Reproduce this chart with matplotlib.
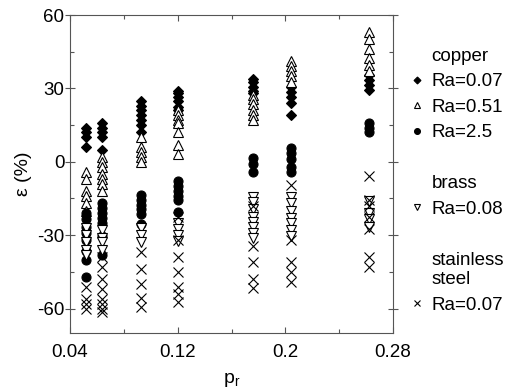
import matplotlib

matplotlib.use("Agg")
import matplotlib.pyplot as plt
import numpy as np
from matplotlib.lines import Line2D

plt.rcParams["font.family"] = ["Liberation Sans", "DejaVu Sans"]
plt.rcParams["mathtext.default"] = "regular"
plt.rcParams["axes.unicode_minus"] = False

# Column positions along p_r (one measurement column each)
p_r = [0.052, 0.064, 0.093, 0.120, 0.176, 0.204, 0.262]

# epsilon (%) per column
cu_007 = [
    [14, 12, 10, 6],
    [16, 14, 12, 10, 5],
    [25, 23, 21, 19, 17, 15, 12],
    [29, 28, 26.5, 25, 22.5, 21],
    [34, 32.5, 30.5, 29, 28],
    [30.5, 28.5, 26.5, 24, 19],
    [35.5, 33.5, 31.5, 29.5],
]
cu_051 = [
    [-4, -7, -12, -14, -17, -20],
    [2, 0, -2, -5, -7, -9, -12],
    [10, 6, 4, 2, 0],
    [21, 19, 17, 16, 12, 7, 3],
    [27.5, 25.5, 23.5, 21, 19, 17],
    [41, 39, 37, 35, 32.5],
    [53, 50, 46, 42.5, 39.5, 37],
]
cu_25 = [
    [-21, -23.5, -26.5, -29, -32, -36.5, -40, -47],
    [-17, -19, -21, -23, -25, -30.5, -38],
    [-13.5, -15.5, -17.5, -19.5, -21.5, -25.5],
    [-8, -10, -12, -14, -15.5, -20.5],
    [1.5, -1, -4],
    [5.5, 3.5, 1, -2, -4],
    [16, 14, 12],
]
brass_008 = [
    [-27, -30, -33, -36, -38],
    [-28, -31, -33, -36],
    [-27, -30, -33],
    [-25, -27.5, -30, -32.5],
    [-14.5, -16.5, -19.5, -22.5, -24.5, -26.5, -29, -31],
    [-14.5, -17, -20, -23, -25, -28, -30.5],
    [-16, -21, -23.5, -26.5],
]
ss_007 = [
    [-51, -56, -58, -60],
    [-39, -43, -48, -52, -56, -58, -60, -61.5],
    [-37, -44, -50, -55.5, -59.5],
    [-22.5, -32, -39, -45, -51, -54, -57.5],
    [-18, -34.5, -41, -48, -51.5],
    [-9.5, -32, -41, -45, -49],
    [-6, -15.5, -18, -22.5, -27.5, -39, -43],
]


def flatten(cols):
    xs = np.concatenate([[p] * len(c) for p, c in zip(p_r, cols)])
    ys = np.concatenate(cols)
    return xs, ys


fig = plt.figure(figsize=(5.16, 3.92), dpi=100)
ax = fig.add_axes([0.1357, 0.1505, 0.626, 0.8112])

ms = 6.5
styles = [
    (cu_007, dict(marker="D", ms=5.4, mfc="black", mec="black")),
    (cu_051, dict(marker="^", ms=ms, mfc="white", mec="black")),
    (cu_25, dict(marker="o", ms=ms, mfc="black", mec="black")),
    (brass_008, dict(marker="v", ms=ms, mfc="white", mec="black")),
    (ss_007, dict(marker="x", ms=ms, mec="black")),
]
for cols, st in styles:
    xs, ys = flatten(cols)
    ax.plot(xs, ys, ls="none", mew=0.8, **st)

ax.set_xlim(0.04, 0.28)
ax.set_ylim(-70, 60)
ax.set_xticks([0.04, 0.12, 0.2, 0.28])
ax.set_xticklabels(["0.04", "0.12", "0.2", "0.28"])
ax.set_xticks([0.08, 0.16, 0.24], minor=True)
ax.set_yticks([-60, -30, 0, 30, 60])
ax.set_yticks([-45, -15, 15, 45], minor=True)
ax.tick_params(which="both", direction="in", top=True, right=True,
               labelsize=13.5, color="#555555", width=0.8)
ax.tick_params(which="major", length=4, pad=8)
ax.tick_params(which="minor", length=3)
ax.tick_params(axis="y", which="major", direction="inout", length=7, pad=0.5)
for s in ax.spines.values():
    s.set_color("#555555")
    s.set_linewidth(0.8)

ax.set_xlabel("p$_r$", fontsize=14)
ax.set_ylabel("ε (%)", fontsize=14)
ax.xaxis.set_label_coords(0.5, -0.12)
ax.yaxis.set_label_coords(-0.118, 0.5)

blank = Line2D([], [], ls="none", marker="")


def mk(st):
    return Line2D([], [], ls="none", mew=0.8, **st)


handles = [blank, mk(styles[0][1]), mk(styles[1][1]), mk(styles[2][1]), blank,
           blank, mk(styles[3][1]), blank, blank, mk(styles[4][1])]
labels = ["copper", "Ra=0.07", "Ra=0.51", "Ra=2.5", "", "brass", "Ra=0.08", "",
          "stainless\nsteel", "Ra=0.07"]
leg = fig.legend(handles, labels, loc="upper left", bbox_to_anchor=(0.78, 0.903),
                 frameon=False, fontsize=13.5, markerscale=0.65, handlelength=0.6,
                 handletextpad=0.45, labelspacing=0.45, borderpad=0)

fig.savefig("out.png", dpi=100)
